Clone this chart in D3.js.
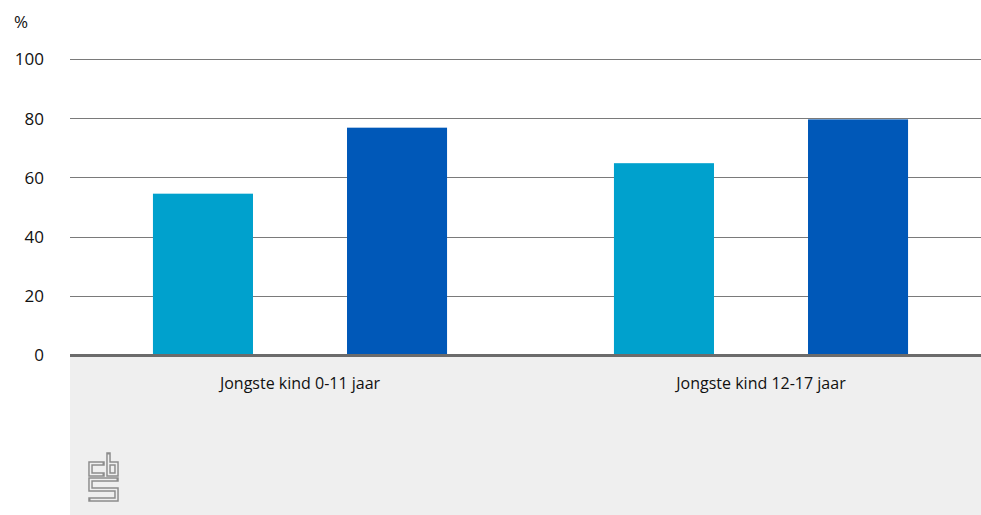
<!DOCTYPE html>
<html>
<head>
<meta charset="utf-8">
<script src="https://cdn.jsdelivr.net/npm/d3@7"></script>
<style>
html,body{margin:0;padding:0;background:#fff;}
svg{display:block;}
text{font-family:"Open Sans","Noto Sans",sans-serif;fill:#111;}
</style>
</head>
<body>
<svg id="chart" width="981" height="515"></svg>
<script>
const categories = ["Jongste kind 0-11 jaar", "Jongste kind 12-17 jaar"];
const seriesNames = ["Serie 1", "Serie 2"];
const series1 = [54.5, 64.8];
const series2 = [76.8, 79.6];
const yTicks = [0, 20, 40, 60, 80, 100];
const unitLabel = "%";

const colors = ["#00a1cd", "#0058b8"];
const W = 981, H = 515;
const svg = d3.select("#chart");

const plotLeft = 70, plotRight = 981;
const y = d3.scaleLinear().domain([0, 100]).range([355, 59]);
const x0 = d3.scaleBand().domain(categories).range([69.5, 991.5]).padding(0);
const x1 = d3.scaleBand().domain(seriesNames).range([0, x0.bandwidth()])
  .paddingInner(0.4845).paddingOuter(0.43);

// grey footer area
svg.append("rect").attr("x", plotLeft).attr("y", y(0)).attr("width", plotRight - plotLeft)
  .attr("height", H - y(0)).attr("fill", "#efefef");

// y axis labels
const yAxis = d3.axisLeft(y).tickValues(yTicks).tickSize(0).tickFormat(d3.format("d"));
const gAxis = svg.append("g").attr("transform", `translate(45,0)`).call(yAxis);
gAxis.select(".domain").remove();
gAxis.selectAll("text").attr("x", -1).attr("dy", "0.35em")
  .style("font-size", "17px").style("fill", "#111")
  .attr("font-family", "'Open Sans','Noto Sans',sans-serif");

// gridlines
svg.append("g").selectAll("line").data(yTicks.filter(d => d !== 0)).join("line")
  .attr("x1", plotLeft).attr("x2", plotRight)
  .attr("y1", d => Math.round(y(d)) + 0.5).attr("y2", d => Math.round(y(d)) + 0.5)
  .attr("stroke", "#7a7a7a").attr("stroke-width", 1);

// bars
const data = categories.map((c, i) => ({cat: c, vals: [series1[i], series2[i]]}));
const groups = svg.append("g").selectAll("g").data(data).join("g")
  .attr("transform", d => `translate(${x0(d.cat)},0)`);
groups.selectAll("rect").data(d => d.vals.map((v, j) => ({s: seriesNames[j], v, j}))).join("rect")
  .attr("x", d => x1(d.s)).attr("width", x1.bandwidth())
  .attr("y", d => y(d.v)).attr("height", d => y(0) - y(d.v))
  .attr("fill", d => colors[d.j]);

// baseline
svg.append("line").attr("x1", plotLeft).attr("x2", plotRight)
  .attr("y1", y(0) + 0.5).attr("y2", y(0) + 0.5)
  .attr("stroke", "#6b6b6b").attr("stroke-width", 3);

// category labels
svg.append("g").selectAll("text").data(categories).join("text")
  .attr("x", d => x0(d) + x0.bandwidth() / 2).attr("y", 389)
  .attr("text-anchor", "middle").style("font-size", "16px").text(d => d);

// unit label
svg.append("text").attr("x", 14).attr("y", 28).style("font-size", "17px").text(unitLabel);

// CBS logo
const logo = svg.append("g").attr("transform", "translate(89,453)");
const logoPaths = [
  "M13.5,10.5 H1.5 V21.5 H13.5",
  "M19.5,1.5 V21.5 H27.5 V10.5 H19.5",
  "M27.5,26.5 H1.5 V36.5 H27.5 V46.5 H1.5"
];
logo.selectAll("path.o").data(logoPaths).join("path").attr("class", "o")
  .attr("d", d => d).attr("fill", "none").attr("stroke", "#8c8c8c")
  .attr("stroke-width", 4.5).attr("stroke-linecap", "square").attr("stroke-linejoin", "miter");
logo.selectAll("path.i").data(logoPaths).join("path").attr("class", "i")
  .attr("d", d => d).attr("fill", "none").attr("stroke", "#efefef")
  .attr("stroke-width", 1.6).attr("stroke-linecap", "butt").attr("stroke-linejoin", "miter");
</script>
</body>
</html>
